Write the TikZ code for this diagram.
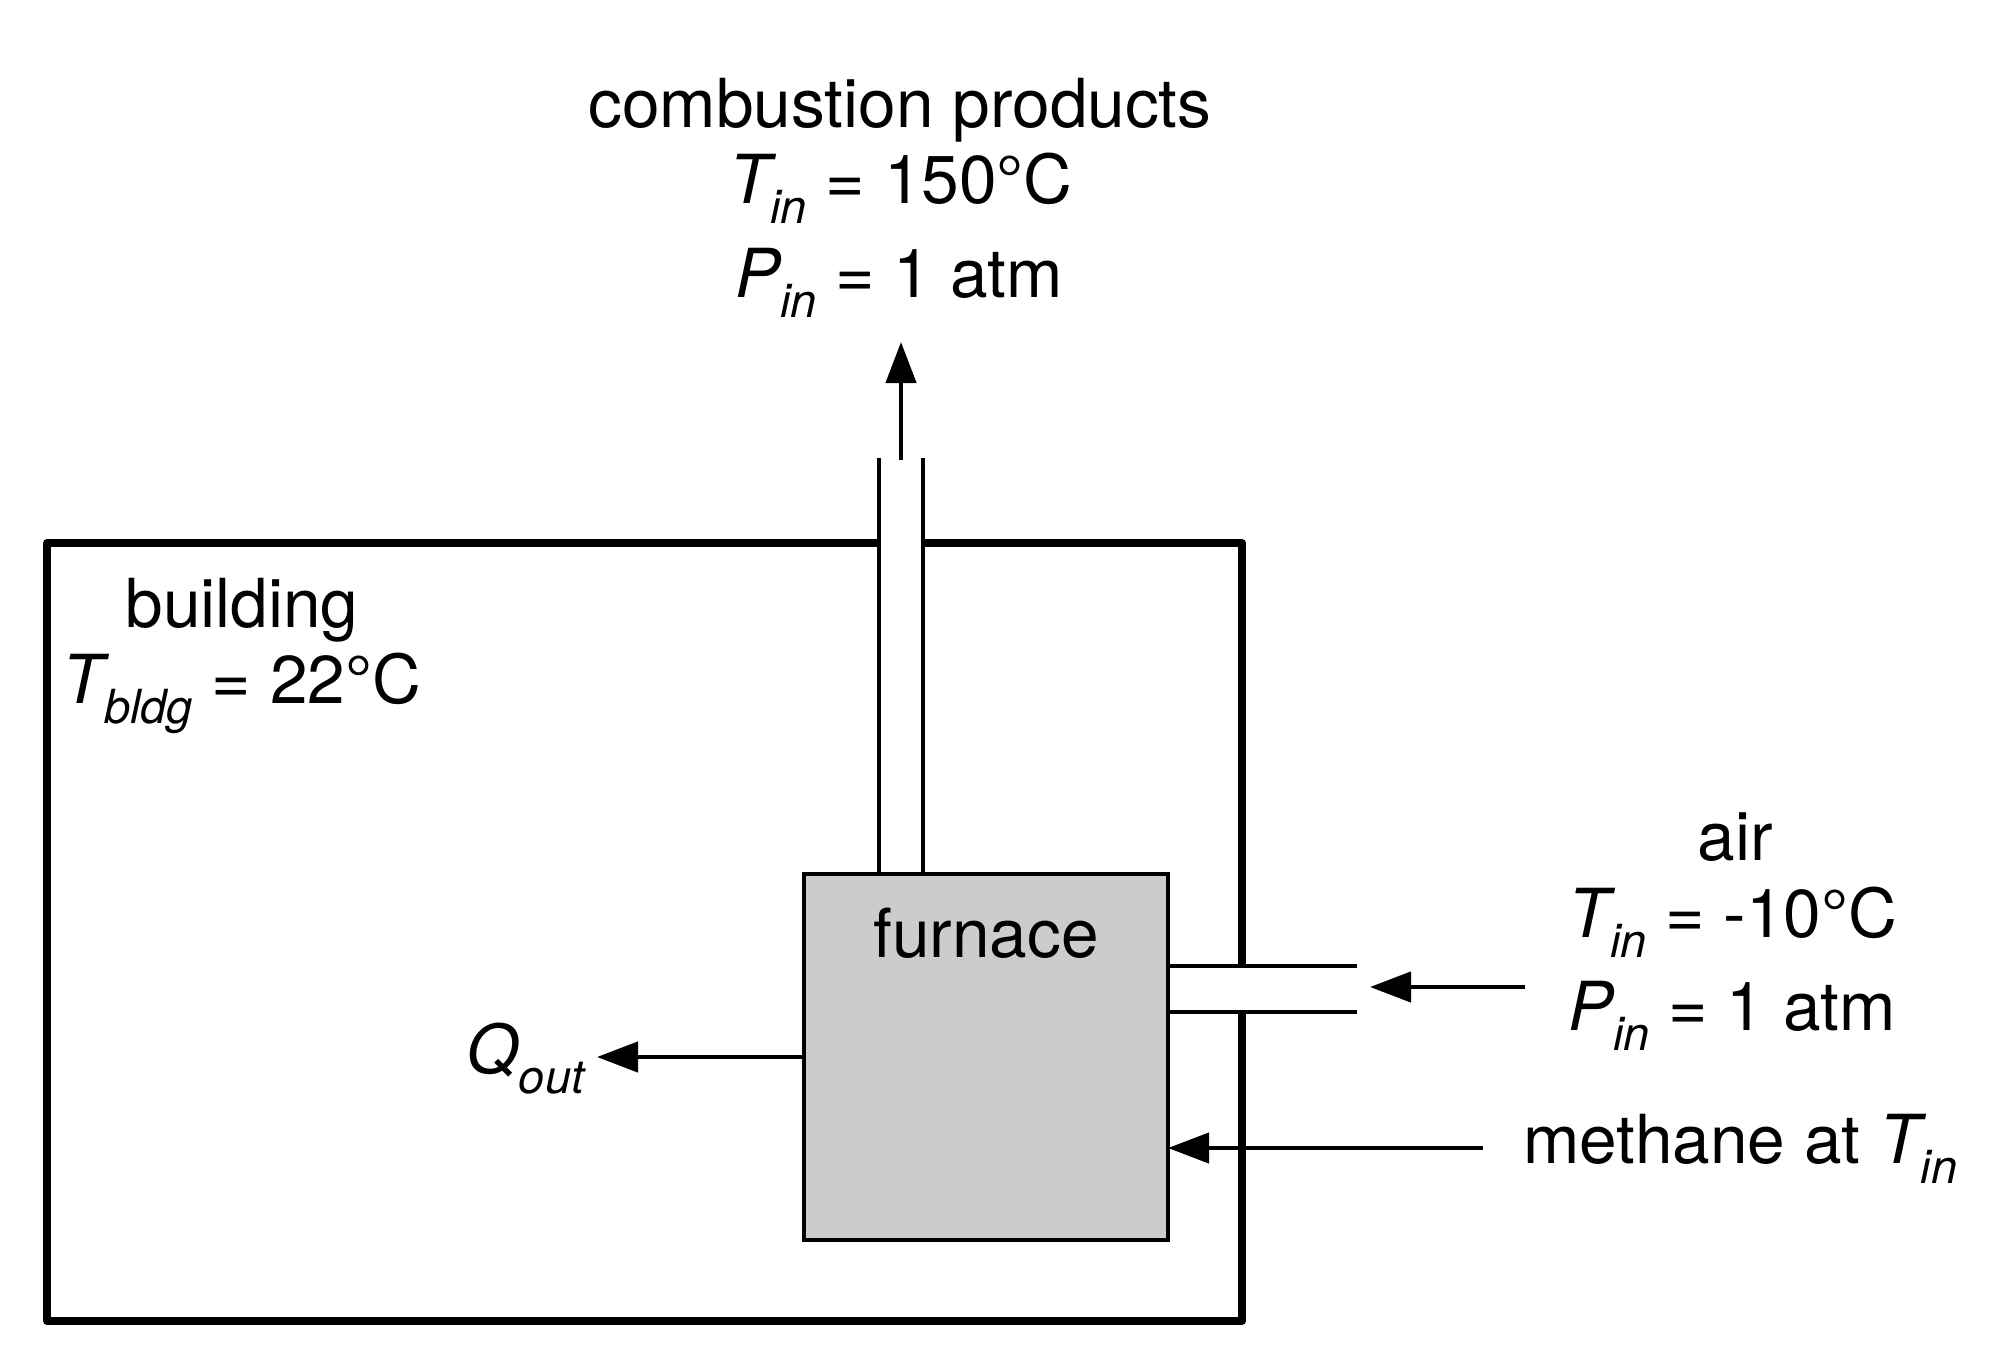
\documentclass[tikz,border=0pt]{standalone}
\usepackage{fontspec}
\setmainfont{TeX Gyre Heros}
\usetikzlibrary{arrows.meta}
\newcommand{\subsc}[2]{{\itshape #1}\raisebox{-10pt}{\fontsize{23.5}{24}\selectfont\itshape #2}}
\definecolor{furnacegray}{HTML}{CCCCCC}
\begin{document}
\begin{tikzpicture}[x=0.5pt,y=-0.5pt,
  lbl/.style={inner sep=0pt, anchor=base, font=\fontsize{33.8}{40}\selectfont},
  wall/.style={line width=4pt, line join=round, line cap=butt},
  thinline/.style={line width=2.1pt},
  arr/.style={line width=2.2pt, -{Triangle[length=20.5pt,width=15pt]}},
  furnacebox/.style={draw, fill=furnacegray, line width=2.2pt, minimum width=182pt, minimum height=183pt, inner sep=0pt, outer sep=0pt}
]
\useasboundingbox (0,0) rectangle (2012,1366);

% building walls
\draw[wall] (879,543) -- (47,543) -- (47,1321) -- (1242,1321) -- (1242,1012);
\draw[wall] (1242,966) -- (1242,543) -- (923,543);

% furnace
\node[furnacebox] (furnace) at (986,1057) {};
\node[lbl] (furnacelbl) at (986,957) {furnace};

% chimney
\coordinate (chL) at (879,458);
\coordinate (chR) at (923,458);
\draw[thinline] (chL) -- (chL |- furnace.north);
\draw[thinline] (chR) -- (chR |- furnace.north);

% air duct
\coordinate (duT) at (1357,966);
\coordinate (duB) at (1357,1012);
\draw[thinline] (furnace.east |- duT) -- (duT);
\draw[thinline] (furnace.east |- duB) -- (duB);

% arrows
\coordinate (upS) at (901,460);
\coordinate (upE) at (901,342);
\draw[arr] (upS) -- (upE);

\coordinate (airS) at (1525,987);
\coordinate (airE) at (1370,987);
\draw[arr] (airS) -- (airE);

\coordinate (methS) at (1483,1148);
\draw[arr] (methS) -- (furnace.east |- methS);

\coordinate (qE) at (597,1057);
\draw[arr] (furnace.west) -- (qE);

% labels
\node[lbl] (comb) at (900,127) {combustion products};
\node[lbl] (combT) at (901,203) {\subsc{T}{in} = 150°C};
\node[lbl] (combP) at (899,297) {\subsc{P}{in} = 1 atm};

\node[lbl] (bldg) at (242,627) {building};
\node[lbl] (bldgT) at (242,703) {\subsc{T}{bldg} = 22°C};

\node[lbl] (air) at (1735,860) {air};
\node[lbl] (airT) at (1733,937) {\subsc{T}{in} = -10°C};
\node[lbl] (airP) at (1732,1030) {\subsc{P}{in} = 1 atm};

\node[lbl, anchor=base west] (meth) at (1523,1163) {methane at \subsc{T}{in}};

\node[lbl, anchor=base west] (qout) at (466,1073) {\subsc{Q}{out}};
\end{tikzpicture}
\end{document}
